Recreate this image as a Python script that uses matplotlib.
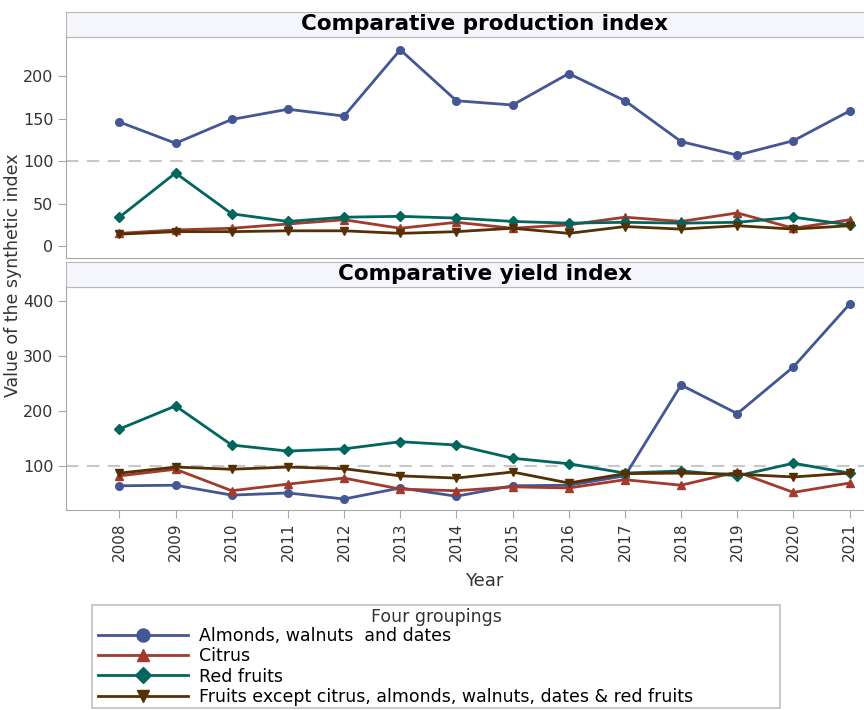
import matplotlib.pyplot as plt
from matplotlib.patches import Rectangle
import numpy as np

plt.rcParams['font.family'] = ['DejaVu Sans']

years = np.arange(2008, 2022)

# production index
prod_almonds = [146, 121, 149, 161, 153, 231, 171, 166, 203, 171, 123, 107, 124, 159]
prod_citrus = [15, 19, 21, 26, 31, 21, 28, 21, 25, 34, 29, 39, 21, 31]
prod_red = [34, 86, 38, 29, 34, 35, 33, 29, 27, 28, 27, 28, 34, 25]
prod_other = [14, 17, 17, 18, 18, 15, 17, 21, 15, 23, 20, 24, 20, 24]

# yield index
yield_almonds = [64, 65, 47, 51, 40, 60, 45, 64, 65, 82, 247, 195, 280, 394]
yield_citrus = [82, 94, 55, 67, 78, 58, 55, 62, 60, 75, 65, 89, 52, 69]
yield_red = [167, 209, 138, 127, 131, 144, 138, 114, 104, 87, 91, 82, 105, 87]
yield_other = [87, 98, 94, 98, 95, 82, 78, 89, 69, 86, 87, 85, 80, 87]

labels = ['Almonds, walnuts  and dates', 'Citrus', 'Red fruits',
          'Fruits except citrus, almonds, walnuts, dates & red fruits']
colors = ['#445694', '#A23A2E', '#01665E', '#543005']
markers = ['o', '^', 'D', 'v']
msizes = [5.5, 5.5, 5, 5.5]

W, H = 864, 710
fig = plt.figure(figsize=(W / 100, H / 100), dpi=100)

def box(x0, y0, x1, y1):
    return [x0 / W, 1 - y1 / H, (x1 - x0) / W, (y1 - y0) / H]

def header(y0, y1, title):
    hx = fig.add_axes(box(66, y0, 903, y1))
    hx.set_facecolor('#F4F6FB')
    hx.set_xticks([])
    hx.set_yticks([])
    for s in hx.spines.values():
        s.set_color('#B8B8B8')
    hx.text(0.5, 0.5, title, ha='center', va='center', fontsize=15.5,
            fontweight='bold', transform=hx.transAxes, color='black')

panels = [
    ((37, 258), (-14, 246), [0, 50, 100, 150, 200],
     [prod_almonds, prod_citrus, prod_red, prod_other], 'Comparative production index', (12, 37)),
    ((287, 510), (20, 425), [100, 200, 300, 400],
     [yield_almonds, yield_citrus, yield_red, yield_other], 'Comparative yield index', (262, 287)),
]

axes = []
for (y0, y1), ylim, yt, series, title, hdr in panels:
    ax = fig.add_axes(box(66, y0, 903, y1))
    header(hdr[0], hdr[1], title)
    ax.axhline(100, color='#C8C8C8', lw=1.5, dashes=(6, 4), zorder=1)
    for vals, lab, c, m, ms in zip(series, labels, colors, markers, msizes):
        ax.plot(years, vals, color=c, lw=2, marker=m, markersize=ms, label=lab, zorder=3)
    ax.set_xlim(2007.05, 2021.95)
    ax.set_ylim(*ylim)
    ax.set_yticks(yt)
    for s in ax.spines.values():
        s.set_color('#A8A8A8')
    ax.tick_params(colors='#A8A8A8', labelcolor='#333333', labelsize=11.5, length=6, pad=3)
    axes.append(ax)

axes[0].set_xticks(years)
axes[0].tick_params(axis='x', bottom=False, labelbottom=False)
axes[1].set_xticks(years)
axes[1].set_xticklabels([str(y) for y in years], rotation=90, fontsize=11)
axes[1].set_xlabel('Year', fontsize=13, color='#333333', labelpad=8)

fig.text(13 / W, 1 - 275 / H, 'Value of the synthetic index', rotation=90,
         ha='center', va='center', fontsize=12.5, color='#333333')

# legend box drawn by hand so it spans the same width as the reference
fig.patches.append(Rectangle((92 / W, 1 - 708 / H), (780 - 92) / W, (708 - 605) / H,
                             transform=fig.transFigure, fill=False,
                             edgecolor='#C0C0C0', lw=1.2))
fig.text(436 / W, 1 - 617 / H, 'Four groupings', ha='center', va='center',
         fontsize=12.5, color='#333333')
handles, labs = axes[1].get_legend_handles_labels()
leg = fig.legend(handles, labs, loc='upper left', bbox_to_anchor=(98 / W, 1 - 627 / H),
                 fontsize=12.5, handlelength=5.2, handletextpad=0.6, labelspacing=0.13,
                 borderpad=0, borderaxespad=0, markerscale=1.7, frameon=False)

plt.savefig('out.png', dpi=100)
